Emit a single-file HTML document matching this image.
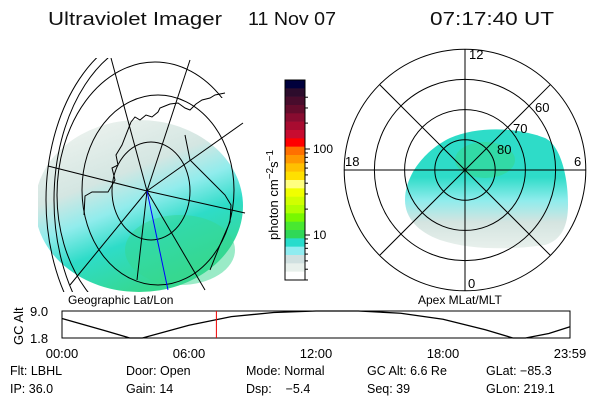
<!DOCTYPE html>
<html><head><meta charset="utf-8"><style>
body{margin:0;background:#fff}
svg{display:block;font-family:"Liberation Sans",sans-serif}
</style></head><body>
<svg id="c" width="600" height="400" viewBox="0 0 600 400">
<defs>
<linearGradient id="gL" x1="0.2" y1="0.1" x2="0.6" y2="0.95">
<stop offset="0" stop-color="#e8f0ec"/><stop offset="0.3" stop-color="#d4e6e2"/><stop offset="0.5" stop-color="#90ecec"/><stop offset="0.7" stop-color="#2edcc8"/><stop offset="1" stop-color="#36d890"/>
</linearGradient>
<linearGradient id="gR" x1="0" y1="0" x2="0" y2="1">
<stop offset="0" stop-color="#2edcc8"/><stop offset="0.4" stop-color="#2edcc8"/><stop offset="0.6" stop-color="#90ecec"/><stop offset="0.78" stop-color="#d4e4e0"/><stop offset="1" stop-color="#e8f0ec"/>
</linearGradient>
<clipPath id="mapclip"><rect x="38" y="58" width="210" height="234"/></clipPath>
<clipPath id="leftclip"><rect x="38" y="58" width="75" height="234"/></clipPath>
<clipPath id="cclip"><rect x="38" y="58" width="72" height="234"/><rect x="38" y="58" width="210" height="40"/></clipPath>
</defs>
<g font-size="18" fill="#111">
<text x="48" y="25" textLength="174" lengthAdjust="spacingAndGlyphs">Ultraviolet Imager</text>
<text x="248" y="25" textLength="88" lengthAdjust="spacingAndGlyphs">11 Nov 07</text>
<text x="430" y="25" textLength="124" lengthAdjust="spacingAndGlyphs">07:17:40 UT</text>
</g>
<g id="leftmap" fill="none" stroke="#000" stroke-width="1" clip-path="url(#mapclip)">
<ellipse cx="139" cy="206" rx="104" ry="86" fill="url(#gL)" stroke="none"/>
<ellipse cx="180" cy="250" rx="55" ry="35" fill="#36d890" stroke="none" opacity="0.5"/>
<ellipse cx="151" cy="191" rx="39" ry="49"/>
<ellipse cx="158" cy="190" rx="76" ry="95"/>
<ellipse cx="155" cy="195" rx="98" ry="133" clip-path="url(#cclip)"/>
<ellipse cx="160" cy="200" rx="114" ry="171" clip-path="url(#leftclip)"/>
<ellipse cx="160" cy="200" rx="106" ry="163" clip-path="url(#leftclip)"/>
<line x1="147" y1="191" x2="111" y2="58"/><line x1="147" y1="191" x2="190" y2="60"/><line x1="147" y1="191" x2="243" y2="123"/>
<line x1="147" y1="191" x2="245" y2="213"/><line x1="147" y1="191" x2="205" y2="290"/><line x1="147" y1="191" x2="137" y2="280"/>
<line x1="147" y1="191" x2="70" y2="285"/><line x1="147" y1="191" x2="48" y2="166"/>
<line x1="147" y1="191" x2="168" y2="290" stroke="#00f"/>
<path d="M131,122 L135,117 L140,120 L146,115 L152,117 L158,112 L160,108 L165,106 L170,104 L178,103 L185,108 L190,110 L196,104 L202,100 L210,98 L215,95 L225,93" stroke-width="1"/>
<path d="M131,122 L122,145 L116,155 L118,165 L112,168 L115,180 L108,192 L92,192 L85,196 L84,215" stroke-width="1"/>
<path d="M185,135 L190,160 L200,170 L215,185 L225,195 L231,205 L230,222 L220,245 L210,270" stroke-width="1"/>
</g>
<g id="cbar"></g>
<text transform="translate(278,240) rotate(-90)" font-size="13">photon cm<tspan dy="-5" font-size="10">−2</tspan><tspan dy="5">s</tspan><tspan dy="-5" font-size="10">−1</tspan></text>
<g id="polar" fill="none" stroke="#000"></g>
<text x="68" y="304" font-size="12">Geographic Lat/Lon</text>
<text x="418" y="304" font-size="12">Apex MLat/MLT</text>
<g id="tl"></g>
<text transform="translate(23,345) rotate(-90)" font-size="13">GC Alt</text>
<g font-size="12.5">
<text x="10" y="375">Flt: LBHL</text><text x="126" y="375">Door: Open</text><text x="246" y="375">Mode: Normal</text><text x="367" y="375">GC Alt: 6.6 Re</text><text x="486" y="375">GLat: −85.3</text>
<text x="10" y="393">IP: 36.0</text><text x="126" y="393">Gain: 14</text><text x="246" y="393">Dsp: &#160;&#160;&#160;−5.4</text><text x="367" y="393">Seq: 39</text><text x="486" y="393">GLon: 219.1</text>
</g>
</svg>
<script>
const NS="http://www.w3.org/2000/svg";
const cbColors=["#00003c","#2c0c2c","#480c2c","#640c2c","#880c30","#a80c30","#c80c30","#ff0000","#ff7000","#ff9800","#ffc000","#ffe000","#ffff80","#f0ff00","#d0ff00","#b0ff00","#78f800","#48e830","#30d858","#28dccc","#90ecf0","#d0e0e0","#e8f0ec","#ffffff"];
const cbTicks=["100","10"];
const cbTickVals=[100,10];
const altHours=[0,2,3.2,3.8,6,8,10,12,13,14,16,18,20,21.3,21.9,23,24];
const altVals=[7.0,3.8,1.8,1.8,5.2,7.5,8.6,9.0,9.0,9.0,8.4,6.8,4.0,1.8,1.8,3.0,4.8];
const timeLabels=["00:00","06:00","12:00","18:00","23:59"];
const timeVals=[0,6,12,18,24];
const altTicks=[9.0,1.8];
const currentHour=7.294;
const mlatRings=[80,70,60,50];
const mltLabels=["12","18","0","6"];
function mk(p,t,a){const e=document.createElementNS(NS,t);for(const k in a)e.setAttribute(k,a[k]);p.appendChild(e);return e;}
const cb=document.getElementById('cbar');const cbX=285,cbY=80,cbW=20,cbH=200;const bh=cbH/cbColors.length;
cbColors.forEach((c,i)=>{const r=mk(cb,'rect',{x:cbX,y:cbY+i*bh,width:cbW,height:bh+0.3,fill:c});

});
mk(cb,'rect',{x:cbX,y:cbY,width:cbW,height:cbH,fill:'none',stroke:'#000'});
const yLog=v=>235-(Math.log10(v)-1)*86;
cbTickVals.forEach((v,i)=>{const y=yLog(v);mk(cb,'line',{x1:cbX+cbW,x2:cbX+cbW+5,y1:y,y2:y,stroke:'#000'});
const t=mk(cb,'text',{x:cbX+cbW+8,y:y+4,'font-size':12});t.textContent=cbTicks[i];

});
[2,3,4,5,6,7,8,9,20,30,40,50,60,70,80,90,200,300,400].forEach(v=>{const y=yLog(v);if(y>cbY&&y<cbY+cbH)mk(cb,'line',{x1:cbX+cbW,x2:cbX+cbW+3,y1:y,y2:y,stroke:'#000'});});
const pg=document.getElementById('polar');const pcx=465,pcy=170;const rOf=m=>(90-m)*3.02;
mk(pg,'path',{d:'M405,200 C405,175 425,150 450,138 C480,125 520,128 545,138 C560,145 568,175 568,205 C568,225 562,240 545,245 C510,250 470,250 440,240 C418,232 405,218 405,200 Z',fill:'url(#gR)',stroke:'none'});
mk(pg,'ellipse',{cx:485,cy:160,rx:30,ry:18,fill:'#36d890',stroke:'none',opacity:0.6});
mlatRings.forEach(m=>{const c=mk(pg,'circle',{cx:pcx,cy:pcy,r:rOf(m)});

});
const R=rOf(50);
for(let a=0;a<360;a+=45){const rad=a*Math.PI/180;mk(pg,'line',{x1:pcx,y1:pcy,x2:pcx+R*Math.cos(rad),y2:pcy+R*Math.sin(rad)});}
[[80,497,154],[70,513,133],[60,535,112]].forEach(([m,x,y])=>{const t=mk(pg,'text',{x:x,y:y,'font-size':13,fill:'#000',stroke:'none'});t.textContent=m;

});
[[mltLabels[0],469,59],[mltLabels[1],345,166],[mltLabels[2],468,288],[mltLabels[3],574,166]].forEach(([s,x,y])=>{const t=mk(pg,'text',{x:x,y:y,'font-size':13,fill:'#000',stroke:'none'});t.textContent=s;

});
const tl=document.getElementById('tl');const x0=62,x1=570,y0=311,y1=338;
const tx=h=>x0+h/24*(x1-x0);const ty=v=>y1-(v-1.8)/(9.0-1.8)*(y1-y0);
mk(tl,'rect',{x:x0,y:y0,width:x1-x0,height:y1-y0,fill:'none',stroke:'#000'});
const p=mk(tl,'polyline',{points:altHours.map((h,i)=>tx(h)+','+ty(altVals[i])).join(' '),fill:'none',stroke:'#000','stroke-width':1.3});


const cl=mk(tl,'line',{x1:tx(currentHour),x2:tx(currentHour),y1:y0,y2:y1,stroke:'#e00'});


altTicks.forEach(v=>{const t=mk(tl,'text',{x:30,y:ty(v)+5,'font-size':13});t.textContent=v.toFixed(1);

});
timeVals.forEach((h,i)=>{const t=mk(tl,'text',{x:tx(h),y:358,'font-size':13,'text-anchor':'middle'});t.textContent=timeLabels[i];

});
</script>
</body></html>
